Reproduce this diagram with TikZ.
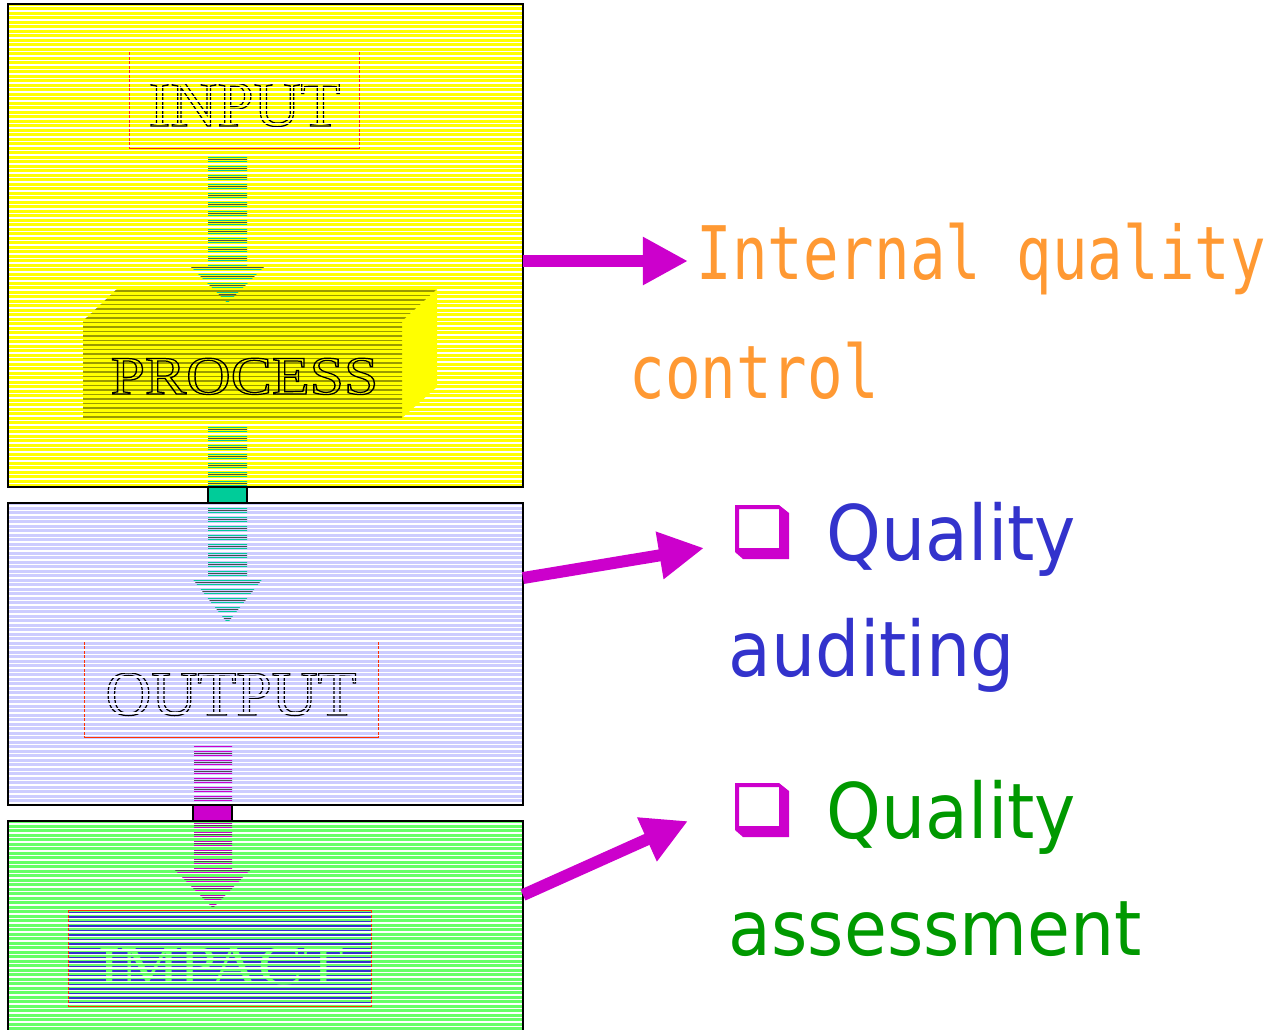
\documentclass[tikz,border=0pt]{standalone}
\usepackage{fontspec}
\usetikzlibrary{arrows.meta}
\newfontfamily\ctlfont[FakeStretch=0.8]{DejaVu Sans Mono}
\newfontfamily\qfont[FakeStretch=0.91]{DejaVu Sans}
\newfontfamily\stagefont{Liberation Serif}
\definecolor{ctlorange}{HTML}{FF9933}
\definecolor{qblue}{HTML}{3333CC}
\definecolor{qgreen}{HTML}{009900}
\definecolor{qmagenta}{HTML}{CC00CC}
\definecolor{flowteal}{HTML}{00CC99}
\definecolor{inyellow}{HTML}{FFFF00}
\definecolor{outlavender}{HTML}{CCCCFF}
\definecolor{impgreen}{HTML}{66FF66}
\definecolor{framered}{HTML}{FF3300}
\definecolor{procolive}{HTML}{999900}
% outlined letters (text render mode 1)
\def\hollow#1{\special{pdf:literal direct 1 Tr 0.35 w}#1\special{pdf:literal direct 0 Tr}}
% shadowed square bullet
\def\chkbox(#1,#2){\fill[qmagenta, even odd rule] (#1,#2) -- ++(44,0) -- ++(10,8) -- ++(0,46) -- ++(-46,0) -- ++(-8,-7) -- cycle (#1+4,#2+4) rectangle (#1+44,#2+43);}

\begin{document}
\begin{tikzpicture}[x=0.01cm, y=-0.01cm,
	boxline/.style={draw=black, line width=0.57pt},
	redframe/.style={draw=framered, line width=0.25pt},
	whitestripe/.style={white, line width=0.34pt},
	flowarrow/.style={path picture={\foreach \y in {4.25,8.75,...,1029} \draw[#1, line width=0.36pt] (0,\y) -- (600,\y);
		\foreach \y in {6.5,15.5,...,1029} \draw[black!70, line width=0.2pt] (0,\y) -- (600,\y);}},
	stagetext/.style={inner sep=0, anchor=base},
	sidetext/.style={inner sep=0, anchor=base west},
	qarrow/.style={qmagenta, line width=3.41pt, -{Triangle[length=12.8pt, width=12.8pt]}}]
	\useasboundingbox (0,0) rectangle (1269,1029);
	%%%%% START %%%%%
	\fill[inyellow] (8,4) rectangle (523,487);
	\fill[outlavender] (8,503) rectangle (523,805);
	\fill[impgreen] (8,821) rectangle (523,1040);
	
	\draw[redframe] (129,52) -- (129,148) -- (359,148) -- (359,52);
	\node[stagetext, font={\stagefont\fontsize{18.5}{22}\selectfont}] (input) at (244.5,126) {\hollow{INPUT}};
	
	\draw[redframe] (84,640) -- (84,737) -- (378,737) -- (378,640);
	\node[stagetext, font={\stagefont\fontsize{18.1}{22}\selectfont}] (output) at (231,715) {\hollow{OUTPUT}};
	
	\fill[impgreen] (68,910) rectangle (371,1006);
	\foreach \y in {912.5,917,...,1004} \draw[qblue, line width=0.45pt] (68,\y) -- (371,\y);
	\draw[redframe] (68,910) rectangle (371,1006);
	\node[stagetext, xscale=1.19, text=impgreen, font={\stagefont\fontsize{15.9}{19}\selectfont}] (impact) at (221,984) {IMPACT};
	
	\foreach \y in {6.5,11,...,486} \draw[whitestripe] (8,\y) -- (523,\y);
	\foreach \y in {506,510.5,...,804} \draw[whitestripe] (8,\y) -- (523,\y);
	\foreach \y in {824,828.5,...,1029} \draw[whitestripe] (8,\y) -- (523,\y);
	
	\fill[inyellow] (402,321) -- (437,289) -- (437,387) -- (402,418) -- cycle;
	\fill[inyellow, path picture={\foreach \y in {291,295.5,...,418} \draw[procolive, line width=0.4pt] (80,\y) -- (440,\y);}] (83,418) -- (83,321) -- (117,289) -- (437,289) -- (402,321) -- (402,418) -- cycle;
	\node[stagetext, xscale=1.14, font={\stagefont\fontsize{15.4}{19}\selectfont}] (process) at (244.5,394) {\hollow{PROCESS}};
	
	\path[flowarrow=flowteal] (208,157) -- (247,157) -- (247,267) -- (264,267) -- (227.5,303) -- (191,267) -- (208,267) -- cycle;
	\path[flowarrow=flowteal] (208,427) -- (247,427) -- (247,577) -- (264,577) -- (227.5,623) -- (191,577) -- (208,577) -- cycle;
	\path[flowarrow=qmagenta] (194,746) -- (232,746) -- (232,869) -- (251,869) -- (213,908) -- (174,869) -- (194,869) -- cycle;
	
	\filldraw[fill=flowteal, boxline] (208,487) rectangle (247,503);
	\filldraw[fill=qmagenta, boxline] (193,805) rectangle (232,821);
	
	\draw[boxline] (8,4) rectangle (523,487);
	\draw[boxline] (8,503) rectangle (523,805);
	\draw[boxline] (8,821) rectangle (523,1040);
	
	\node[sidetext, text=ctlorange, font={\ctlfont\fontsize{21}{25}\selectfont}] (ctl1) at (696,279) {Internal quality};
	\node[sidetext, text=ctlorange, font={\ctlfont\fontsize{21}{25}\selectfont}] (ctl2) at (629,398) {control};
	\chkbox(735,505)
	\node[sidetext, text=qblue, font={\qfont\fontsize{21.8}{26}\selectfont}] (aud1) at (826,560) {Quality};
	\node[sidetext, text=qblue, font={\qfont\fontsize{21.8}{26}\selectfont}] (aud2) at (728,676) {auditing};
	\chkbox(735,783)
	\node[sidetext, text=qgreen, font={\qfont\fontsize{21.8}{26}\selectfont}] (ass1) at (826,838) {Quality};
	\node[sidetext, text=qgreen, font={\qfont\fontsize{21.8}{26}\selectfont}] (ass2) at (728,955) {assessment};
	
	\coordinate (ctlfrom) at (523,261);
	\coordinate (ctlto) at (688,261);
	\coordinate (audfrom) at (523,578);
	\coordinate (audto) at (704,548);
	\coordinate (assfrom) at (523,895);
	\coordinate (assto) at (688,821);
	\draw[qarrow] (ctlfrom) -- (ctlto);
	\draw[qarrow] (audfrom) -- (audto);
	\draw[qarrow] (assfrom) -- (assto);
	%%%%% END %%%%%
\end{tikzpicture}
\end{document}
